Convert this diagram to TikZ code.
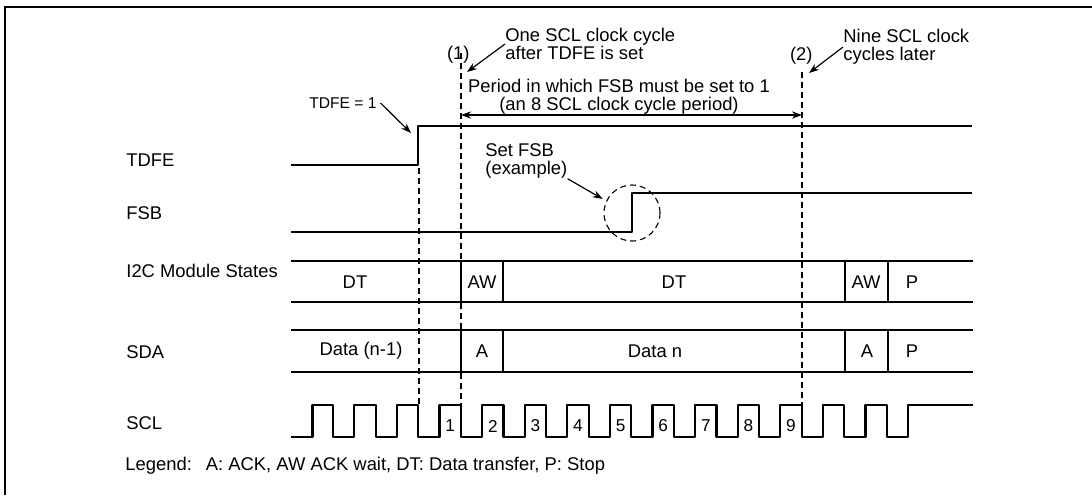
\documentclass[tikz,border=0pt]{standalone}
\usepackage{fontspec}
\setmainfont{Liberation Sans}
\usetikzlibrary{arrows.meta,positioning}

\begin{document}
\begin{tikzpicture}[x=0.5pt, y=-0.5pt,
  sig/.style={line width=1.1pt, line join=round},
  guide/.style={line width=0.55pt, dash pattern=on 3pt off 2pt},
  lbl/.style={font=\fontsize{9.2}{9}\selectfont, inner sep=0pt},
  note/.style={font=\fontsize{7.8}{9}\selectfont, inner sep=0pt},
  num/.style={font=\fontsize{8.6}{9}\selectfont, inner sep=0pt},
  arr/.style={-{Stealth[length=5pt,width=3.6pt]}, line width=0.6pt},
  dbl/.style={{Stealth[length=5pt,width=3.6pt]}-{Stealth[length=5pt,width=3.6pt]}, line width=0.6pt}]
  \useasboundingbox (0,0) rectangle (1092,495);
  \draw[line width=1pt] (5.2,495) -- (5.2,7) -- (1092,7);

  % signal names
  \node[lbl, anchor=west] (tdfe) at (126,160) {TDFE};
  \node[lbl, anchor=west] (fsb) at (126,213) {FSB};
  \node[lbl, anchor=west] (i2c) at (126,271) {I2C Module States};
  \node[lbl, anchor=west] (sda) at (126,352) {SDA};
  \node[lbl, anchor=west] (scl) at (126,423) {SCL};

  % guides
  \draw[guide] (419,168) -- (419,405);
  \draw[guide] (461,53) -- (461,405);
  \draw[guide] (802,72) -- (802,405);

  % waveforms
  \draw[sig] (291,165) -- (418.2,165) -- (418.2,126) -- (972,126);
  \draw[sig] (291,232) -- (632,232) -- (632,193) -- (972,193);
  \foreach \t/\b in {261/302, 330/372} {
    \draw[sig] (291,\t) -- (973,\t) (291,\b) -- (973,\b);
    \foreach \x in {461,503,845,888} \draw[sig] (\x,\t) -- (\x,\b);
  }
  \draw[sig] (291,437) -- (312.4,437) -- (312.4,405)
    \foreach \i in {0,...,13} { -- ({333+42.6*\i},405) -- ({333+42.6*\i},437)
      -- ({354.3+42.6*\i},437) -- ({354.3+42.6*\i},405) }
    -- (973,405);
  \foreach \n in {1,...,9}
    \node[num] (clk\n) at ({407.6+42.6*\n},426) {\n};

  % states
  \node[lbl] (st1) at (355,282) {DT};
  \node[lbl] (st2) at (482,282) {AW};
  \node[lbl] (st3) at (674,282) {DT};
  \node[lbl] (st4) at (866,282) {AW};
  \node[lbl] (st5) at (912,282) {P};
  \node[lbl] (sd1) at (361,351) {Data (n-1)};
  \node[lbl] (sd2) at (482,351) {A};
  \node[lbl] (sd3) at (655,351) {Data n};
  \node[lbl] (sd4) at (867,351) {A};
  \node[lbl] (sd5) at (912,351) {P};

  % notes
  \node[note, outer sep=2pt] (tdfeset) at (343,103) {TDFE = 1};
  \coordinate (tdfetip) at (411,133);
  \draw[arr] (tdfeset.east) -- (tdfetip);
  \node[lbl, align=left, anchor=west] (onescl) at (505,44) {One SCL clock cycle\\after TDFE is set};
  \node[lbl, anchor=base east] (cyc1) at ([xshift=-17.5pt]onescl.base west) {(1)};
  \coordinate (tip1) at (467,72);
  \draw[arr] (onescl.west) -- (tip1);
  \node[lbl, align=left, anchor=west] (nine) at (843,47) {Nine SCL clock\\cycles later};
  \node[lbl, anchor=base east] (cyc2) at ([xshift=-15pt]nine.base west) {(2)};
  \coordinate (tip2) at (809,73);
  \draw[arr] (nine.west) -- (tip2);
  \node[lbl, align=center] (period) at (619,97) {Period in which FSB must be set to 1\\(an 8 SCL clock cycle period)};
  \coordinate (per1) at (461,115);
  \coordinate (per2) at (802,115);
  \draw[dbl] (per1) -- (per2);
  \node[lbl, align=left, anchor=west] (setfsb) at (485,161) {Set FSB\\(example)};
  \node[draw, guide, circle, minimum size=28pt, inner sep=0pt] (ring) at (632,213) {};
  \draw[arr, shorten >=2pt] (setfsb.south east) -- (ring.155);

  \node[lbl, anchor=west] (legend) at (125,466) {Legend:\hspace{7pt}A: ACK, AW ACK wait, DT: Data transfer, P: Stop};
\end{tikzpicture}
\end{document}
